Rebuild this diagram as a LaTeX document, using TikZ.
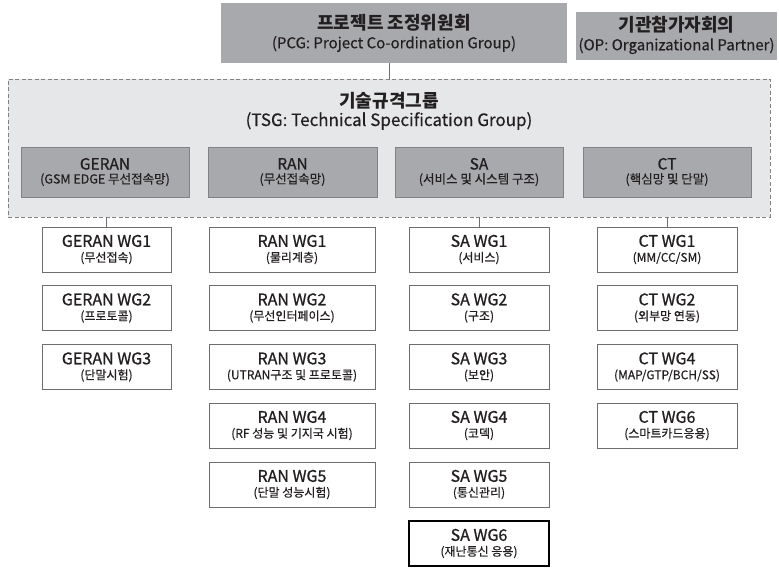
\documentclass[tikz,border=0pt]{standalone}
\usepackage{fontspec}
\setmainfont{Noto Sans CJK KR}
\newfontfamily\medfont[FakeBold=0.8]{Noto Sans CJK KR}
\newfontfamily\semifont[FakeBold=0.4]{Noto Sans CJK KR}
\definecolor{boxgray}{HTML}{A7A9AC}
\definecolor{tsgfill}{HTML}{E6E7E8}
\definecolor{edgegray}{HTML}{808285}
\definecolor{wgedge}{HTML}{6D6E71}
\definecolor{txt}{HTML}{231F20}
\newcommand{\toptitle}{\bfseries\fontsize{18}{22}\selectfont}
\newcommand{\topsub}{\semifont\fontsize{15}{20}\selectfont}
\newcommand{\grptitle}{\medfont\fontsize{15.5}{16}\selectfont}
\newcommand{\grpsub}{\semifont\fontsize{12.5}{16}\selectfont}
\newcommand{\wgtitle}{\medfont\fontsize{16}{16}\selectfont}
\newcommand{\wgsub}{\semifont\fontsize{12}{16}\selectfont}
\begin{document}
\begin{tikzpicture}[x=1pt,y=-1pt,
  topbox/.style={fill=boxgray, draw=none, text=txt, align=center, inner sep=0pt},
  tsgbox/.style={fill=tsgfill, draw=edgegray, line width=0.9pt, dash pattern=on 4pt off 2.5pt, inner sep=0pt},
  grpbox/.style={fill=boxgray, draw=edgegray, line width=0.9pt, text=txt, align=center, inner sep=0pt, minimum height=50pt},
  wgbox/.style={fill=white, draw=wgedge, line width=0.9pt, text=txt, align=center, inner sep=0pt, minimum height=45pt},
  wgbold/.style={wgbox, draw=black, line width=1.8pt},
  conn/.style={draw=wgedge, line width=1pt}]
\useasboundingbox (0,0) rectangle (779,569);
% top boxes
\node[topbox, minimum width=346pt, minimum height=60pt] (pcg) at (394,33) {};
\node[text=txt] (pcgt) at (394,23) {\toptitle 프로젝트 조정위원회};
\node[text=txt] (pcgs) at (394,44) {\topsub (PCG: Project Co-ordination Group)};
\node[topbox, minimum width=201pt, minimum height=48pt] (op) at (676.5,36) {};
\node[text=txt] (opt) at (676.5,25) {\toptitle 기관참가자회의};
\node[text=txt] (ops) at (676.5,46) {\topsub (OP: Organizational Partner)};
% TSG
\node[tsgbox, minimum width=762pt, minimum height=138pt] (tsg) at (389,148) {};
\node[text=txt] (tsgt) at (389,101) {\toptitle 기술규격그룹};
\node[text=txt] (tsgs) at (389,121) {\semifont\fontsize{17}{20}\selectfont (TSG: Technical Specification Group)};
% groups
\node[grpbox, minimum width=168pt] (geran) at (105,172) {\grptitle GERAN\\[2pt]\grpsub (GSM EDGE 무선접속망)};
\node[grpbox, minimum width=169pt] (ran) at (292.5,172) {\grptitle RAN\\[2pt]\grpsub (무선접속망)};
\node[grpbox, minimum width=168pt] (sa) at (479,172) {\grptitle SA\\[2pt]\grpsub (서비스 및 시스템 구조)};
\node[grpbox, minimum width=168pt] (ct) at (667,172) {\grptitle CT\\[2pt]\grpsub (핵심망 및 단말)};
% GERAN WGs
\node[wgbox, minimum width=129pt] (g1) at (106.5,249.5) {\wgtitle GERAN WG1\\[3pt]\wgsub (무선접속)};
\node[wgbox, minimum width=129pt] (g2) at (106.5,308) {\wgtitle GERAN WG2\\[3pt]\wgsub (프로토콜)};
\node[wgbox, minimum width=129pt] (g3) at (106.5,367) {\wgtitle GERAN WG3\\[3pt]\wgsub (단말시험)};
% RAN WGs
\node[wgbox, minimum width=166pt] (r1) at (292,249.5) {\wgtitle RAN WG1\\[3pt]\wgsub (물리계층)};
\node[wgbox, minimum width=166pt] (r2) at (292,308) {\wgtitle RAN WG2\\[3pt]\wgsub (무선인터페이스)};
\node[wgbox, minimum width=166pt] (r3) at (292,367) {\wgtitle RAN WG3\\[3pt]\wgsub (UTRAN구조 및 프로토콜)};
\node[wgbox, minimum width=166pt] (r4) at (292,425.5) {\wgtitle RAN WG4\\[3pt]\wgsub (RF 성능 및 기지국 시험)};
\node[wgbox, minimum width=166pt] (r5) at (292,484.5) {\wgtitle RAN WG5\\[3pt]\wgsub (단말 성능시험)};
% SA WGs
\node[wgbox, minimum width=140pt] (s1) at (479,249.5) {\wgtitle SA WG1\\[3pt]\wgsub (서비스)};
\node[wgbox, minimum width=140pt] (s2) at (479,308) {\wgtitle SA WG2\\[3pt]\wgsub (구조)};
\node[wgbox, minimum width=140pt] (s3) at (479,367) {\wgtitle SA WG3\\[3pt]\wgsub (보안)};
\node[wgbox, minimum width=140pt] (s4) at (479,425.5) {\wgtitle SA WG4\\[3pt]\wgsub (코덱)};
\node[wgbox, minimum width=140pt] (s5) at (479,484.5) {\wgtitle SA WG5\\[3pt]\wgsub (통신관리)};
\node[wgbold, minimum width=140pt] (s6) at (479,543.5) {\wgtitle SA WG6\\[3pt]\wgsub (재난통신 응용)};
% CT WGs
\node[wgbox, minimum width=140pt] (c1) at (667,249.5) {\wgtitle CT WG1\\[3pt]\wgsub (MM/CC/SM)};
\node[wgbox, minimum width=140pt] (c2) at (667,308) {\wgtitle CT WG2\\[3pt]\wgsub (외부망 연동)};
\node[wgbox, minimum width=140pt] (c4) at (667,367) {\wgtitle CT WG4\\[3pt]\wgsub (MAP/GTP/BCH/SS)};
\node[wgbox, minimum width=140pt] (c6) at (667,425.5) {\wgtitle CT WG6\\[3pt]\wgsub (스마트카드응용)};
% connectors
\draw[conn] (tsg.north) -- (tsg.north |- pcg.south);
\draw[conn] (g1.north) -- (g1.north |- tsg.south);
\draw[conn] (s1.north) -- (s1.north |- tsg.south);
\draw[conn] (c1.north) -- (c1.north |- tsg.south);
\end{tikzpicture}
\end{document}
